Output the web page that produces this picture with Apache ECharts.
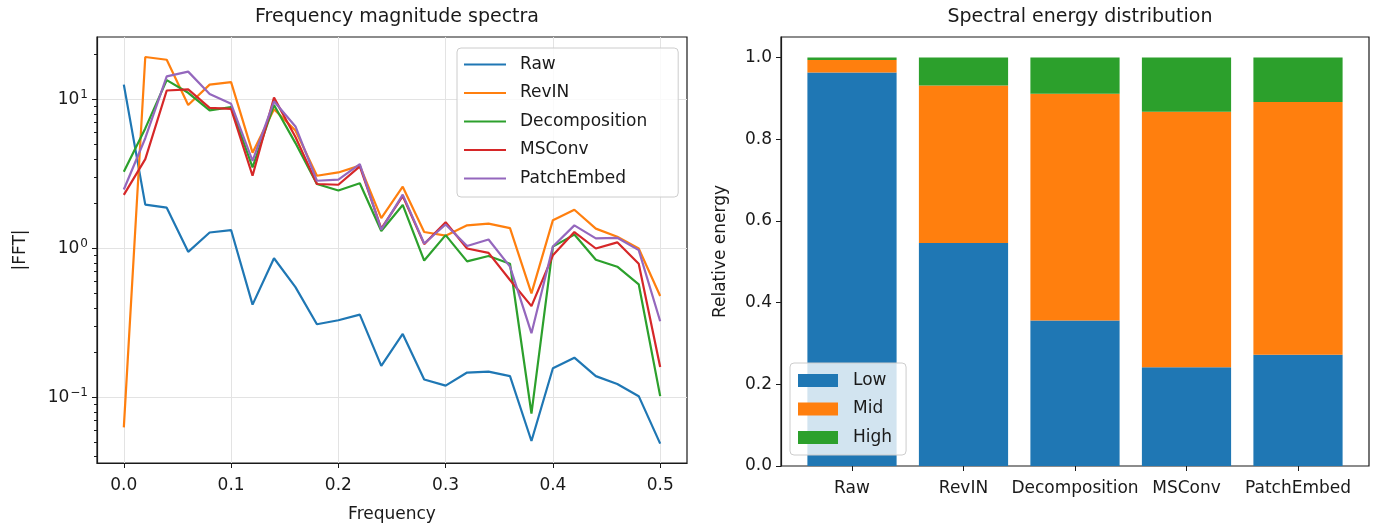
<!DOCTYPE html>
<html>
<head>
<meta charset="utf-8">
<script src="https://cdn.jsdelivr.net/npm/echarts@6/dist/echarts.min.js"></script>
<style>
  html, body { margin: 0; padding: 0; background: #fff; }
  #chart { width: 1384px; height: 528px; }
</style>
</head>
<body>
<div id="chart"></div>
<script>
// left panel: spectra
const freq = [0, 0.02, 0.04, 0.06, 0.08, 0.1, 0.12, 0.14, 0.16, 0.18, 0.2, 0.22, 0.24,
  0.26, 0.28, 0.3, 0.32, 0.34, 0.36, 0.38, 0.4, 0.42, 0.44, 0.46, 0.48, 0.5];
const raw = [12.6, 1.97, 1.88, 0.95, 1.28, 1.33, 0.42, 0.86, 0.55, 0.31, 0.33, 0.36, 0.163,
  0.267, 0.132, 0.12, 0.147, 0.149, 0.139, 0.051, 0.157, 0.185, 0.139, 0.123, 0.102, 0.049];
const revin = [0.063, 19.3, 18.5, 9.2, 12.6, 13.1, 4.4, 8.6, 6.2, 3.08, 3.24, 3.6, 1.6,
  2.6, 1.29, 1.22, 1.43, 1.47, 1.37, 0.5, 1.55, 1.82, 1.36, 1.2, 1.0, 0.48];
const decomp = [3.28, 6.4, 13.5, 11.1, 8.45, 8.9, 3.5, 9.2, 5.1, 2.71, 2.45, 2.74, 1.31,
  1.96, 0.83, 1.23, 0.82, 0.89, 0.79, 0.078, 1.03, 1.24, 0.84, 0.755, 0.575, 0.102];
const msconv = [2.29, 3.98, 11.5, 11.7, 8.8, 8.66, 3.08, 10.3, 5.6, 2.71, 2.68, 3.56, 1.36,
  2.25, 1.07, 1.5, 1.0, 0.935, 0.615, 0.41, 0.9, 1.29, 1.0, 1.1, 0.79, 0.16];
const patch = [2.49, 5.5, 14.3, 15.4, 10.9, 9.36, 3.88, 9.74, 6.6, 2.85, 2.9, 3.69, 1.34,
  2.3, 1.08, 1.45, 1.04, 1.15, 0.755, 0.27, 1.03, 1.43, 1.17, 1.18, 0.975, 0.325];
const freqTicks = [0, 0.1, 0.2, 0.3, 0.4, 0.5];
const logMajor = [0.1, 1, 10];
const logMinor = [0.04, 0.05, 0.06, 0.07, 0.08, 0.09, 0.2, 0.3, 0.4, 0.5, 0.6, 0.7, 0.8, 0.9,
  2, 3, 4, 5, 6, 7, 8, 9, 20];

// right panel: energy split
const methods = ['Raw', 'RevIN', 'Decomposition', 'MSConv', 'PatchEmbed'];
const low = [0.963, 0.546, 0.356, 0.242, 0.272];
const mid = [0.031, 0.385, 0.555, 0.625, 0.619];
const high = [0.006, 0.069, 0.089, 0.133, 0.109];
const energyTicks = [0, 0.2, 0.4, 0.6, 0.8, 1.0];

const FONT = 'DejaVu Sans';
const INK = '#1a1a1a';
const C = ['#1f77b4', '#ff7f0e', '#2ca02c', '#d62728', '#9467bd'];

const chart = echarts.init(document.getElementById('chart'));

const lineSeries = [
  ['Raw', raw], ['RevIN', revin], ['Decomposition', decomp], ['MSConv', msconv], ['PatchEmbed', patch]
].map(([name, vals], k) => ({
  name: name,
  type: 'line',
  xAxisIndex: 0,
  yAxisIndex: 0,
  symbol: 'none',
  color: C[k],
  lineStyle: { width: 2.2, color: C[k] },
  data: freq.map((f, i) => [f, vals[i]])
}));

// bars sit in their own grid so the category spacing matches matplotlib's margins
const barSeries = [['Low', low], ['Mid', mid], ['High', high]].map(([name, vals], k) => ({
  name: name,
  type: 'bar',
  xAxisIndex: 2,
  yAxisIndex: 3,
  stack: 'energy',
  barWidth: '80%',
  color: C[k],
  itemStyle: { color: C[k] },
  data: vals
}));

const supText = v => {
  const e = Math.round(Math.log10(v));
  return '10{sup|' + (e < 0 ? '\u2212' + (-e) : e) + '}';
};

const tickStyle = { color: INK, width: 1 };
const labelBase = { color: INK, fontSize: 17, fontFamily: FONT };
const titleStyle = { fontSize: 19, fontWeight: 'normal', color: INK, fontFamily: FONT };

chart.setOption({
  animation: false,
  textStyle: { fontFamily: FONT },
  title: [
    { text: 'Frequency magnitude spectra', left: 392, top: 3, textAlign: 'center', textStyle: titleStyle },
    { text: 'Spectral energy distribution', left: 1075, top: 3, textAlign: 'center', textStyle: titleStyle }
  ],
  grid: [
    { left: 97, top: 37, width: 590, height: 429, show: true, borderColor: INK, borderWidth: 1.2 },
    { left: 781, top: 37, width: 588, height: 429, show: true, borderColor: INK, borderWidth: 1.2 },
    { left: 796.25, top: 37, width: 557.5, height: 429, show: false }
  ],
  legend: [
    {
      data: ['Raw', 'RevIN', 'Decomposition', 'MSConv', 'PatchEmbed'],
      orient: 'vertical', left: 457, top: 48, icon: 'rect',
      itemWidth: 42, itemHeight: 2.2, itemGap: 11.5,
      padding: [8, 31, 10, 7],
      backgroundColor: 'rgba(255,255,255,0.8)', borderColor: '#cccccc', borderWidth: 1, borderRadius: 4,
      textStyle: { ...labelBase, lineHeight: 17, padding: [0, 0, 0, 9] }
    },
    {
      data: ['Low', 'Mid', 'High'],
      orient: 'vertical', left: 790, top: 363, icon: 'rect',
      itemWidth: 40, itemHeight: 13, itemGap: 11.5,
      padding: [9, 14, 9, 8],
      backgroundColor: 'rgba(255,255,255,0.8)', borderColor: '#cccccc', borderWidth: 1, borderRadius: 4,
      textStyle: { ...labelBase, lineHeight: 17, padding: [0, 0, 0, 10] }
    }
  ],
  xAxis: [
    {
      type: 'value', gridIndex: 0, min: -0.025, max: 0.525,
      name: 'Frequency', nameLocation: 'middle', nameGap: 43,
      nameTextStyle: { ...labelBase },
      axisLine: { show: true, onZero: false, lineStyle: { color: INK, width: 1.2 } },
      axisTick: { show: true, length: 5, lineStyle: tickStyle, customValues: freqTicks },
      axisLabel: { ...labelBase, margin: 14, customValues: freqTicks, formatter: v => v.toFixed(1) },
      splitLine: { show: true, lineStyle: { color: '#e3e3e3', width: 1 } }
    },
    {
      type: 'value', gridIndex: 1, min: 0, max: 1, show: false
    },
    {
      type: 'category', gridIndex: 2, data: methods,
      axisLine: { show: false, onZero: false },
      axisTick: { show: true, alignWithLabel: true, length: 5, lineStyle: tickStyle },
      axisLabel: { ...labelBase, margin: 14, interval: 0 },
      splitLine: { show: false }
    }
  ],
  yAxis: [
    {
      type: 'log', logBase: 10, gridIndex: 0, min: 0.0363, max: 26.3,
      name: '|FFT|', nameLocation: 'middle', nameGap: 68,
      nameTextStyle: { ...labelBase },
      axisLine: { show: true, onZero: false, lineStyle: { color: INK, width: 1.2 } },
      axisTick: { show: true, length: 5, lineStyle: tickStyle, customValues: logMajor },
      axisLabel: {
        ...labelBase, margin: 9, customValues: logMajor, formatter: supText,
        rich: {
          sup: { fontSize: 12, color: INK, fontFamily: FONT, verticalAlign: 'top', padding: [0, 0, 9, 1] }
        }
      },
      splitLine: { show: true, lineStyle: { color: '#e3e3e3', width: 1 } }
    },
    {
      type: 'log', logBase: 10, gridIndex: 0, min: 0.0363, max: 26.3, position: 'left',
      axisLine: { show: false, onZero: false },
      axisTick: { show: true, length: 3, lineStyle: tickStyle, customValues: logMinor },
      axisLabel: { show: false },
      splitLine: { show: false }
    },
    {
      type: 'value', gridIndex: 1, min: 0, max: 1.05,
      name: 'Relative energy', nameLocation: 'middle', nameGap: 52,
      nameTextStyle: { ...labelBase },
      axisLine: { show: true, onZero: false, lineStyle: { color: INK, width: 1.2 } },
      axisTick: { show: true, length: 5, lineStyle: tickStyle, customValues: energyTicks },
      axisLabel: { ...labelBase, margin: 9, customValues: energyTicks, formatter: v => v.toFixed(1) },
      splitLine: { show: false }
    },
    {
      type: 'value', gridIndex: 2, min: 0, max: 1.05, show: false
    }
  ],
  series: lineSeries.concat(barSeries)
});
</script>
</body>
</html>
